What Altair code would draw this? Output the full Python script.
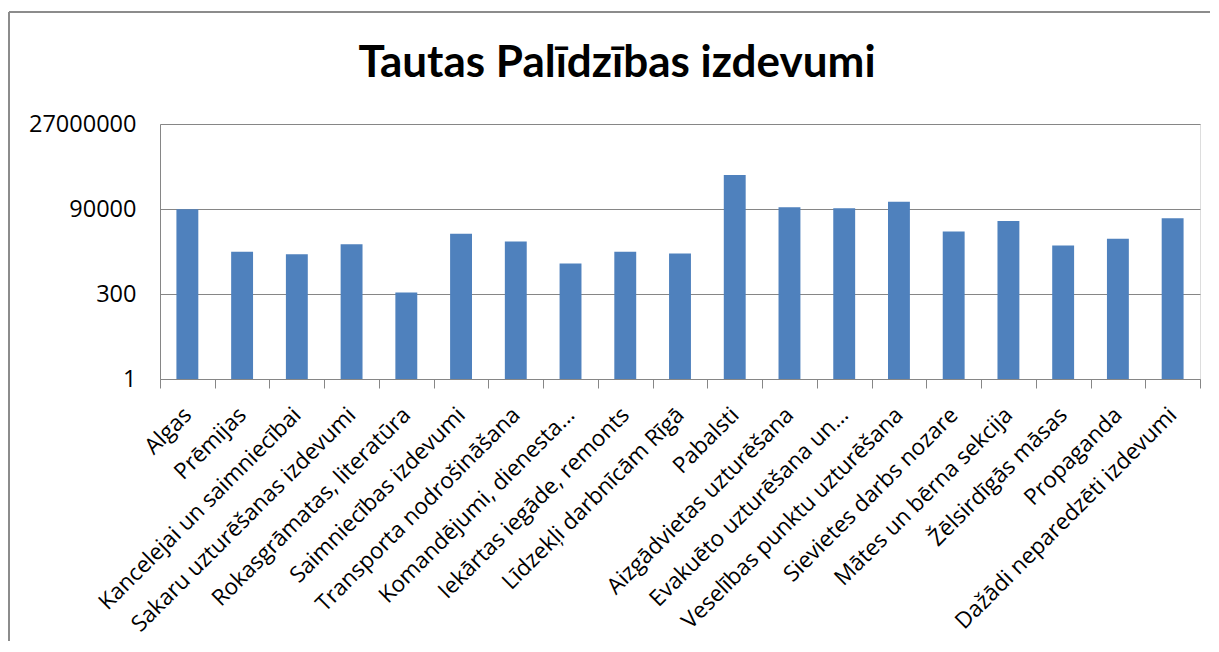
import altair as alt
import pandas as pd

categories = [
    "Algas",
    "Prēmijas",
    "Kancelejai un saimniecībai",
    "Sakaru uzturēšanas  izdevumi",
    "Rokasgrāmatas, literatūra",
    "Saimniecības izdevumi",
    "Transporta nodrošināšana",
    "Komandējumi, dienesta…",
    "Iekārtas iegāde,  remonts",
    "Līdzekļi darbnīcām Rīgā",
    "Pabalsti",
    "Aizgādvietas uzturēšana",
    "Evakuēto uzturēšana un…",
    "Veselības punktu uzturēšana",
    "Sievietes darbs nozare",
    "Mātes un bērna sekcija",
    "Žēlsirdīgās māsas",
    "Propaganda",
    "Dažādi neparedzēti  izdevumi",
]
values = [
    88000, 5100, 4300, 8500, 330, 17000, 10200, 2330, 5100, 4560,
    880000, 102000, 94000, 146000, 20000, 40000, 7800, 12200, 48000,
]
y_ticks = [1, 300, 90000, 27000000]
title_text = "Tautas Palīdzības izdevumi"

df = pd.DataFrame({"kategorija": categories, "izdevumi": values})

GRID = "#868686"

bars = alt.Chart(df).mark_bar(
    color="#4F81BD", width=alt.RelativeBandSize(0.4)
).encode(
    x=alt.X(
        "kategorija:N",
        sort=categories,
        scale=alt.Scale(paddingInner=0, paddingOuter=0),
        axis=alt.Axis(
            title=None,
            labelAngle=-45,
            labelAlign="right",
            labelBaseline="middle",
            labelPadding=23,
            labelFont="Open Sans",
            labelFontSize=22.5,
            labelColor="#000000",
            labelLimit=450,
            tickBand="extent",
            tickSize=9,
            tickColor=GRID,
            domainColor=GRID,
            grid=False,
        ),
    ),
    y=alt.Y(
        "izdevumi:Q",
        scale=alt.Scale(type="log", domain=[1, 27000000], nice=False),
        axis=alt.Axis(
            title=None,
            values=y_ticks,
            format="d",
            ticks=False,
            labelPadding=24,
            labelFont="Open Sans",
            labelFontSize=23.5,
            labelColor="#000000",
            grid=True,
            gridColor=GRID,
            domainColor=GRID,
        ),
    ),
    y2=alt.datum(1),
)

one_row = pd.DataFrame({"f": [0]})
frame_top = alt.Chart(one_row).mark_rule(color="#8c8c8c", strokeWidth=2).encode(
    x=alt.value(-151), x2=alt.value(1070), y=alt.value(-112)
)
frame_left = alt.Chart(one_row).mark_rule(color="#8c8c8c", strokeWidth=2).encode(
    x=alt.value(-151), y=alt.value(-112), y2=alt.value(540)
)
title = alt.Chart(one_row).mark_text(
    text=title_text,
    font="Lato",
    fontSize=44,
    fontWeight="bold",
    color="#000000",
    align="center",
    baseline="alphabetic",
).encode(x=alt.value(457), y=alt.value(-47))

chart = alt.layer(bars, frame_top, frame_left, title).properties(
    width=1040,
    height=255,
    autosize=alt.AutoSizeParams(type="none"),
    padding={"left": 152, "top": 116, "right": 10, "bottom": 262},
).configure_view(stroke=None).configure(background="white")

chart.save("out.html", embed_options={"renderer": "svg", "actions": False})
